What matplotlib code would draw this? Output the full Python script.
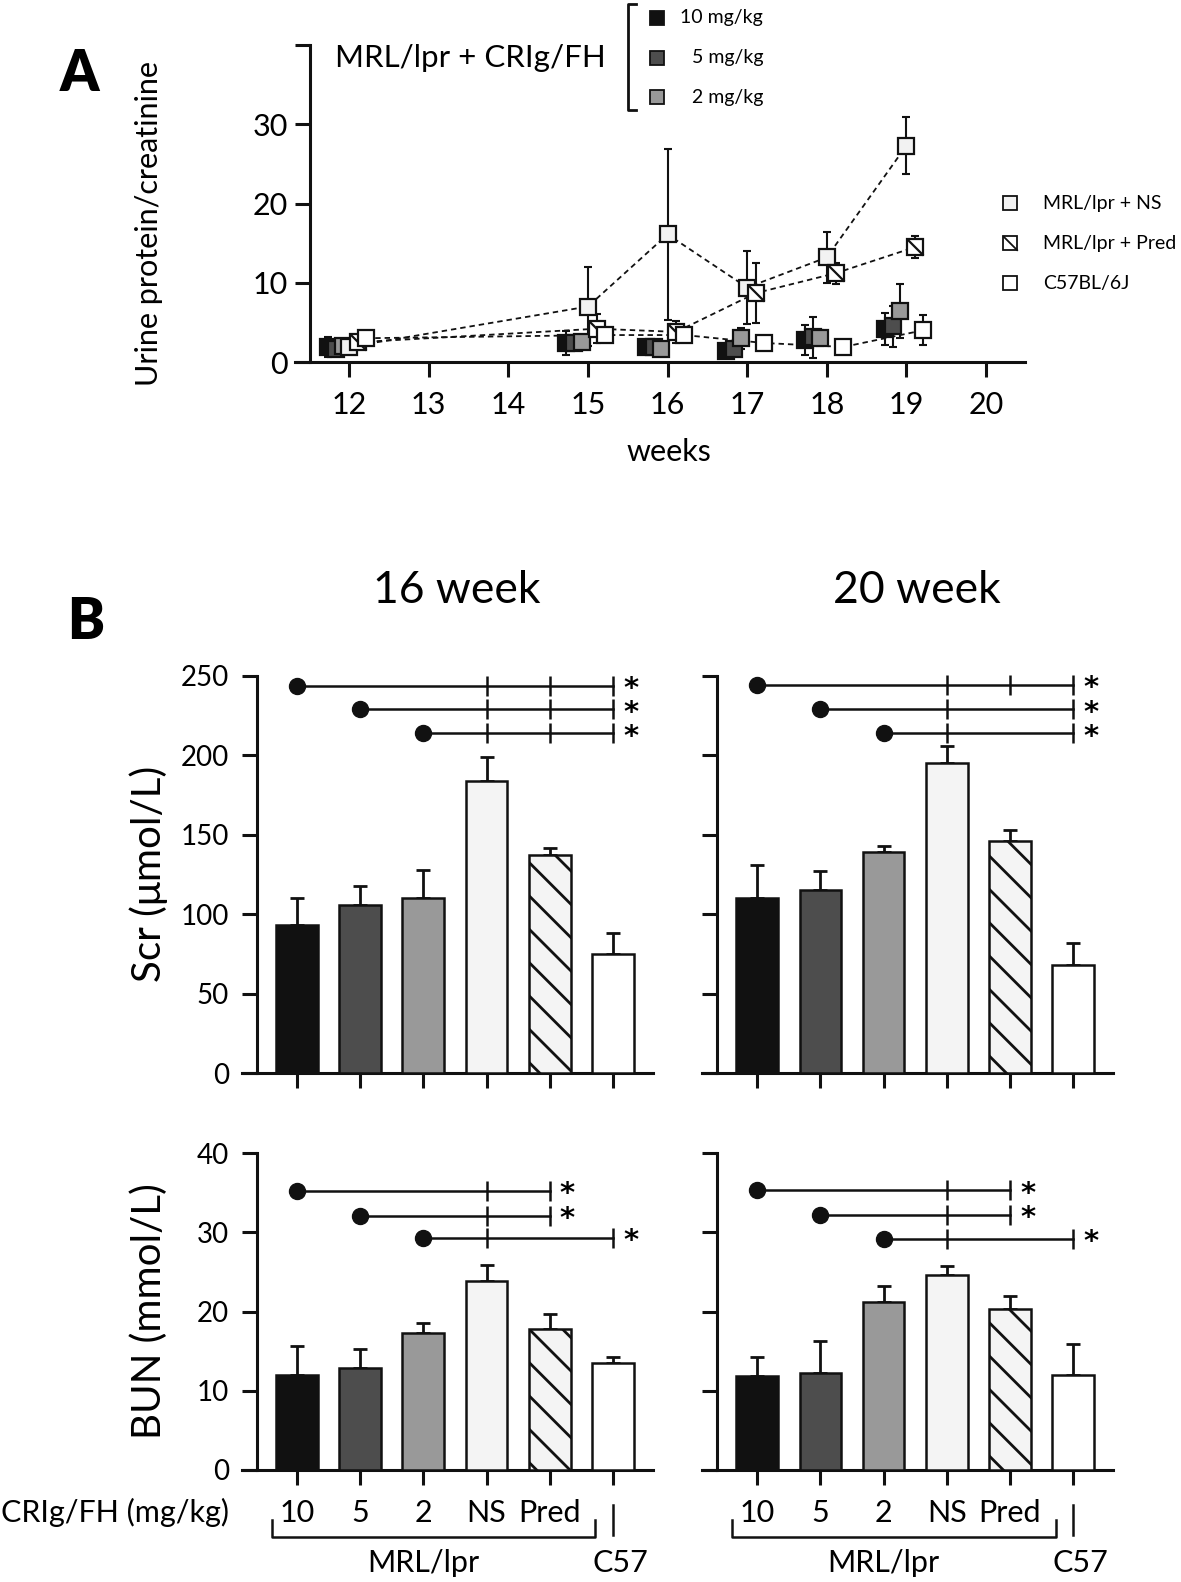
import numpy as np
import matplotlib
matplotlib.use('Agg')
import matplotlib.pyplot as plt
from matplotlib.path import Path
from matplotlib.transforms import blended_transform_factory

plt.rcParams['font.family'] = ['Lato', 'DejaVu Sans']
plt.rcParams['mathtext.fontset'] = 'dejavusans'
plt.rcParams['hatch.linewidth'] = 2.0
plt.rcParams['hatch.color'] = '#111111'

W, H = 1181, 1582
INK = '#111111'

# ---------------- data: panel A (urine protein/creatinine) ----------------
weeks = [12, 15, 16, 17, 18, 19]
upc_10 = [1.9, 2.4, 1.9, 1.4, 2.8, 4.2]
upc_10_err = [1.3, 1.5, 0.4, 0.4, 1.9, 2.0]
upc_5 = [1.7, 2.4, 1.9, 1.6, 3.1, 4.5]
upc_5_err = [0.8, 0.8, 0.3, 0.5, 2.6, 2.6]
upc_2 = [2.0, 2.5, 1.6, 3.0, 3.0, 6.4]
upc_2_err = [0.5, 0.6, 0.3, 1.3, 1.0, 3.4]
upc_ns = [1.9, 7.0, 16.1, 9.4, 13.2, 27.3]
upc_ns_err = [0.6, 5.0, 10.8, 4.6, 3.2, 3.6]
upc_pred = [2.5, 4.2, 3.8, 8.7, 11.2, 14.5]
upc_pred_err = [0.5, 1.8, 1.4, 3.8, 1.3, 1.4]
upc_c57 = [3.0, 3.4, 3.4, 2.4, 1.9, 4.0]
upc_c57_err = [0.4, 0.6, 0.5, 0.4, 0.3, 1.9]

# ---------------- data: panel B (Scr / BUN) ----------------
groups = ['10', '5', '2', 'NS', 'Pred', '']
scr_16 = [93, 106, 110, 184, 137, 75]
scr_16_err = [17, 12, 18, 15, 5, 13]
scr_20 = [110, 115, 139, 195, 146, 68]
scr_20_err = [21, 12, 4, 11, 7, 14]
bun_16 = [12.0, 12.9, 17.3, 23.9, 17.8, 13.5]
bun_16_err = [3.6, 2.4, 1.3, 2.0, 1.9, 0.8]
bun_20 = [11.9, 12.2, 21.2, 24.6, 20.3, 12.0]
bun_20_err = [2.3, 4.1, 2.0, 1.1, 1.7, 3.9]

# significance rows: (start group, y, intermediate ticks, end group)
sig_scr_16 = [(0, 244, [3, 4], 5), (1, 229, [3, 4], 5), (2, 214, [3, 4], 5)]
sig_scr_20 = [(0, 244.5, [3, 4], 5), (1, 229, [3], 5), (2, 214, [3], 5)]
sig_bun_16 = [(0, 35.2, [3], 4), (1, 32.1, [3], 4), (2, 29.3, [3], 5)]
sig_bun_20 = [(0, 35.3, [3], 4), (1, 32.2, [3], 4), (2, 29.2, [3], 5)]


def fx(px):
    return px / W


def fy(py):
    return 1 - py / H


fig = plt.figure(figsize=(W / 100, H / 100), dpi=100)

diag = Path([(-0.5, 0.5), (0.5, -0.5)], [Path.MOVETO, Path.LINETO])


def style_axes(ax, spine_x):
    for s in ['top', 'right']:
        ax.spines[s].set_visible(False)
    ax.spines['left'].set_position(('data', spine_x))
    ax.spines['left'].set_linewidth(2.2)
    ax.spines['bottom'].set_linewidth(2.2)
    ax.spines['left'].set_color(INK)
    ax.spines['bottom'].set_color(INK)
    ax.tick_params(direction='out', length=11, width=2.2, color=INK)
    ax.set_facecolor('none')


# ---------------- panel A ----------------
axA = fig.add_axes([fx(295), fy(362), fx(730), 317 / H])
axA.set_xlim(11.32, 20.49)
axA.set_ylim(0, 40)
style_axes(axA, 11.51)
axA.set_xticks(range(12, 21))
axA.set_yticks([0, 10, 20, 30, 40])
axA.set_yticklabels(['0', '10', '20', '30', ''])
axA.tick_params(labelsize=22)
axA.tick_params(axis='x', pad=10)
axA.tick_params(axis='y', pad=5)

wk = np.array(weeks, dtype=float)
series = [
    (upc_10, upc_10_err, -0.27, '#111111', False),
    (upc_5, upc_5_err, -0.17, '#4d4d4d', False),
    (upc_2, upc_2_err, -0.08, '#999999', False),
    (upc_ns, upc_ns_err, 0.0, '#f2f2f2', True),
    (upc_pred, upc_pred_err, 0.11, '#ffffff', True),
    (upc_c57, upc_c57_err, 0.21, '#ffffff', True),
]
for vals, err, off, col, line in series:
    if line:
        axA.plot(wk + off, vals, ls=(0, (3, 2.2)), color=INK, lw=1.3, zorder=2)
    axA.errorbar(wk + off, vals, yerr=err, fmt='none', ecolor=INK,
                 elinewidth=1.5, capsize=3, capthick=1.5, zorder=3)
for i, (vals, err, off, col, line) in enumerate(series):
    axA.plot(wk + off, vals, 's', ms=11.5, mfc=col, mec=INK, mew=1.6,
             zorder=4 + i, clip_on=False)
    if i == 4:
        axA.plot(wk + off, vals, marker=diag, ls='none', ms=11.5, mec=INK,
                 mew=1.6, zorder=4 + i)

fig.text(fx(149), fy(224), 'Urine protein/creatinine', rotation=90,
         ha='center', va='center', fontsize=22)
fig.text(fx(669), fy(452), 'weeks', ha='center', va='center', fontsize=22)
fig.text(fx(470), fy(58), 'MRL/lpr + CRIg/FH', ha='center', va='center',
         fontsize=22.5)
fig.text(fx(79), fy(74), 'A', ha='center', va='center', fontsize=40,
         fontweight='heavy')
fig.text(fx(86), fy(622), 'B', ha='center', va='center', fontsize=40,
         fontweight='heavy')

# top legend with bracket
fig.add_artist(plt.Line2D([fx(636), fx(628), fx(628), fx(636)],
                          [fy(4), fy(4), fy(110), fy(110)],
                          color=INK, lw=2, transform=fig.transFigure))
leg_top = [('10 mg/kg', '#111111', 18), ('5 mg/kg', '#4d4d4d', 58),
           ('2 mg/kg', '#999999', 97)]
for lab, col, yy in leg_top:
    fig.add_artist(plt.Line2D([fx(657)], [fy(yy)], marker='s', ms=10.5,
                              mfc=col, mec=INK, mew=1.3, ls='none',
                              transform=fig.transFigure))
    fig.text(fx(763), fy(yy), lab, ha='right', va='center', fontsize=14)

leg_right = [('MRL/lpr + NS', '#f2f2f2', 203), ('MRL/lpr + Pred', '#ffffff', 243),
             ('C57BL/6J', '#ffffff', 283)]
for i, (lab, col, yy) in enumerate(leg_right):
    fig.add_artist(plt.Line2D([fx(1010)], [fy(yy)], marker='s', ms=10.5,
                              mfc=col, mec=INK, mew=1.3, ls='none',
                              transform=fig.transFigure))
    if i == 1:
        fig.add_artist(plt.Line2D([fx(1010)], [fy(yy)], marker=diag, ms=10.5,
                                  mec=INK, mew=1.3, ls='none',
                                  transform=fig.transFigure))
    fig.text(fx(1043), fy(yy), lab, ha='left', va='center', fontsize=14)

# ---------------- panel B ----------------
bar_colors = ['#111111', '#4d4d4d', '#999999', '#f4f4f4', '#f4f4f4', '#ffffff']
bar_hatch = ['', '', '', '', '\\', '']


def bar_panel(ax, vals, errs, ymax, yticks, sig, show_ylab, show_xlab):
    x = np.arange(len(vals))
    ax.set_xlim(-0.875, 5.63)
    ax.set_ylim(0, ymax)
    style_axes(ax, -0.638)
    ax.bar(x, vals, width=0.66, color=bar_colors, edgecolor=INK,
           linewidth=1.8, hatch=bar_hatch, zorder=3)
    ax.errorbar(x, vals, yerr=[np.zeros(len(vals)), errs], fmt='none',
                ecolor=INK, elinewidth=2, capsize=5, capthick=2, zorder=2)
    ax.set_xticks(x)
    ax.set_yticks(yticks)
    if show_xlab:
        ax.set_xticklabels(groups)
    else:
        ax.set_xticklabels([])
    if not show_ylab:
        ax.set_yticklabels([])
    ax.tick_params(axis='y', labelsize=20, pad=9)
    ax.tick_params(axis='x', labelsize=22, pad=10)
    for start, yv, marks, end in sig:
        ax.plot([start, end], [yv, yv], color=INK, lw=1.8, zorder=5,
                clip_on=False)
        ax.plot([start], [yv], 'o', ms=11.5, color=INK, zorder=6, clip_on=False)
        ax.plot(marks + [end], [yv] * (len(marks) + 1), '|', ms=14, mew=1.8,
                color=INK, zorder=6, clip_on=False)
        ax.annotate(r'$\mathbf{*}$', (end, yv), xytext=(13, -1),
                    textcoords='offset points', ha='center', va='center',
                    fontsize=21)


ax1 = fig.add_axes([fx(241.7), fy(1073), 411 / W, 397 / H])
bar_panel(ax1, scr_16, scr_16_err, 250, range(0, 251, 50), sig_scr_16, True, False)
ax2 = fig.add_axes([fx(702), fy(1073), 411 / W, 397 / H])
bar_panel(ax2, scr_20, scr_20_err, 250, range(0, 251, 50), sig_scr_20, False, False)
ax3 = fig.add_axes([fx(241.7), fy(1470), 411 / W, 317 / H])
bar_panel(ax3, bun_16, bun_16_err, 40, range(0, 41, 10), sig_bun_16, True, True)
ax4 = fig.add_axes([fx(702), fy(1470), 411 / W, 317 / H])
bar_panel(ax4, bun_20, bun_20_err, 40, range(0, 41, 10), sig_bun_20, False, True)

fig.text(fx(457), fy(590), '16 week', ha='center', va='center', fontsize=32)
fig.text(fx(917), fy(590), '20 week', ha='center', va='center', fontsize=32)
fig.text(fx(149), fy(874), 'Scr (\u03bcmol/L)', rotation=90, ha='center',
         va='center', fontsize=29)
fig.text(fx(149), fy(1311), 'BUN (mmol/L)', rotation=90, ha='center',
         va='center', fontsize=29)
fig.text(fx(115), fy(1512), 'CRIg/FH (mg/kg)', ha='center', va='center',
         fontsize=22)

for ax in (ax3, ax4):
    tr = blended_transform_factory(ax.transData, fig.transFigure)
    ax.plot([-0.4, -0.4, 4.72, 4.72], [fy(1520), fy(1537), fy(1537), fy(1520)],
            color=INK, lw=1.8, transform=tr, clip_on=False)
    ax.plot([5, 5], [fy(1505), fy(1535)], color=INK, lw=1.8, transform=tr,
            clip_on=False)
    ax.text(2.0, fy(1563), 'MRL/lpr', transform=tr, ha='center', va='center',
            fontsize=22)
    ax.text(5.12, fy(1563), 'C57', transform=tr, ha='center', va='center',
            fontsize=22)

fig.savefig('out.png', dpi=100)
